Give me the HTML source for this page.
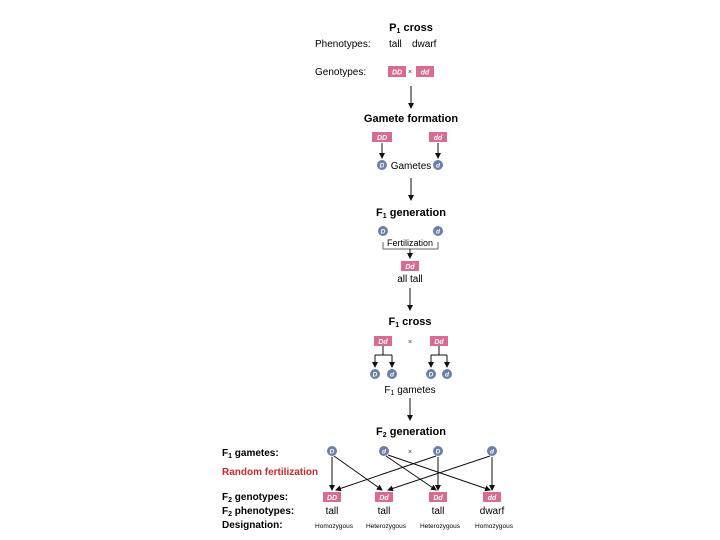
<!DOCTYPE html>
<html><head><meta charset="utf-8"><style>
html,body{margin:0;padding:0;background:#fff;}
body{width:720px;height:540px;position:relative;overflow:hidden;font-family:"Liberation Sans",sans-serif;color:#111;}
svg{position:absolute;left:0;top:0;}
</style></head><body>
<svg width="720" height="540" viewBox="0 0 720 540" font-family="Liberation Sans, sans-serif">
<defs>
<marker id="a" markerWidth="6" markerHeight="6" refX="5" refY="3" orient="auto" markerUnits="userSpaceOnUse"><path d="M0,0 L6,3 L0,6 z" fill="#111"/></marker>
</defs>
<g font-size="10" font-weight="bold">
<text x="411" y="31" text-anchor="middle" font-size="11">P<tspan font-size="7" dy="2">1</tspan><tspan dy="-2"> cross</tspan></text>
<text x="315" y="47" font-weight="normal" font-size="10">Phenotypes:</text>
<text x="389" y="47" font-weight="normal">tall</text>
<text x="412" y="47" font-weight="normal">dwarf</text>
<text x="315" y="75" font-weight="normal">Genotypes:</text>
<text x="411" y="122" text-anchor="middle" font-size="11">Gamete formation</text>
<text x="411" y="169" text-anchor="middle" font-weight="normal">Gametes</text>
<text x="411" y="216" text-anchor="middle" font-size="11">F<tspan font-size="7" dy="2">1</tspan><tspan dy="-2"> generation</tspan></text>
<text x="410" y="246" text-anchor="middle" font-weight="normal" font-size="9">Fertilization</text>
<text x="410" y="282" text-anchor="middle" font-weight="normal">all tall</text>
<text x="410" y="325" text-anchor="middle" font-size="11">F<tspan font-size="7" dy="2">1</tspan><tspan dy="-2"> cross</tspan></text>
<text x="410" y="393" text-anchor="middle" font-weight="normal">F<tspan font-size="7" dy="2">1</tspan><tspan dy="-2"> gametes</tspan></text>
<text x="411" y="435" text-anchor="middle" font-size="11">F<tspan font-size="7" dy="2">2</tspan><tspan dy="-2"> generation</tspan></text>
<text x="222" y="456">F<tspan font-size="7" dy="2">1</tspan><tspan dy="-2"> gametes:</tspan></text>
<text x="222" y="475" fill="#c8282e">Random fertilization</text>
<text x="222" y="500">F<tspan font-size="7" dy="2">2</tspan><tspan dy="-2"> genotypes:</tspan></text>
<text x="222" y="514">F<tspan font-size="7" dy="2">2</tspan><tspan dy="-2"> phenotypes:</tspan></text>
<text x="222" y="528">Designation:</text>
</g>
<g font-size="10" text-anchor="middle">
<text x="332" y="514">tall</text><text x="384" y="514">tall</text><text x="438" y="514">tall</text><text x="492" y="514">dwarf</text>
</g>
<g font-size="6.5" text-anchor="middle">
<text x="334" y="528">Homozygous</text><text x="386" y="528">Heterozygous</text><text x="440" y="528">Heterozygous</text><text x="494" y="528">Homozygous</text>
</g>
<g font-size="7" fill="#333" text-anchor="middle">
<text x="410" y="74">×</text><text x="410" y="344">×</text><text x="410" y="454">×</text>
</g>
<!-- pink boxes -->
<g fill="#d96a93">
<rect x="388" y="66" width="18" height="11"/><rect x="416" y="66" width="18" height="11"/>
<rect x="372" y="132" width="20" height="10"/><rect x="429" y="132" width="18" height="10"/>
<rect x="401" y="261" width="18" height="10"/>
<rect x="374" y="336" width="18" height="10"/><rect x="430" y="336" width="18" height="10"/>
<rect x="323" y="492" width="18" height="10"/><rect x="375" y="492" width="18" height="10"/><rect x="429" y="492" width="18" height="10"/><rect x="483" y="492" width="18" height="10"/>
</g>
<g fill="#fff" font-size="7" font-weight="bold" font-style="italic" text-anchor="middle">
<text x="397" y="74.5">DD</text><text x="425" y="74.5">dd</text>
<text x="382" y="140">DD</text><text x="438" y="140">dd</text>
<text x="410" y="269">Dd</text>
<text x="383" y="344">Dd</text><text x="439" y="344">Dd</text>
<text x="332" y="500">DD</text><text x="384" y="500">Dd</text><text x="438" y="500">Dd</text><text x="492" y="500">dd</text>
</g>
<!-- circles -->
<g fill="#6b7fa8">
<circle cx="382" cy="165" r="5"/><circle cx="438" cy="165" r="5"/>
<circle cx="383" cy="231" r="5"/><circle cx="438" cy="231" r="5"/>
<circle cx="375" cy="374" r="5"/><circle cx="392" cy="374" r="5"/><circle cx="431" cy="374" r="5"/><circle cx="447" cy="374" r="5"/>
<circle cx="332" cy="451" r="5"/><circle cx="384" cy="451" r="5"/><circle cx="438" cy="451" r="5"/><circle cx="492" cy="451" r="5"/>
</g>
<g fill="#fff" font-size="6.5" font-weight="bold" font-style="italic" text-anchor="middle">
<text x="382" y="167.5">D</text><text x="438" y="167.5">d</text>
<text x="383" y="233.5">D</text><text x="438" y="233.5">d</text>
<text x="375" y="376.5">D</text><text x="392" y="376.5">d</text><text x="431" y="376.5">D</text><text x="447" y="376.5">d</text>
<text x="332" y="453.5">D</text><text x="384" y="453.5">d</text><text x="438" y="453.5">D</text><text x="492" y="453.5">d</text>
</g>
<!-- lines -->
<g stroke="#111" stroke-width="1" fill="none">
<line x1="411" y1="86" x2="411" y2="108" marker-end="url(#a)"/>
<line x1="382" y1="143" x2="382" y2="158" marker-end="url(#a)"/>
<line x1="438" y1="143" x2="438" y2="158" marker-end="url(#a)"/>
<line x1="411" y1="178" x2="411" y2="200" marker-end="url(#a)"/>
<path d="M383,242 V249 H438 V242" stroke="#666"/>
<line x1="410" y1="249" x2="410" y2="258" marker-end="url(#a)"/>
<line x1="410" y1="288" x2="410" y2="310" marker-end="url(#a)"/>
<path d="M383,346 V355 M375,355 H392 M439,346 V355 M431,355 H447"/>
<line x1="375" y1="355" x2="375" y2="367" marker-end="url(#a)"/>
<line x1="392" y1="355" x2="392" y2="367" marker-end="url(#a)"/>
<line x1="431" y1="355" x2="431" y2="367" marker-end="url(#a)"/>
<line x1="447" y1="355" x2="447" y2="367" marker-end="url(#a)"/>
<line x1="410" y1="398" x2="410" y2="420" marker-end="url(#a)"/>
<line x1="332" y1="457" x2="332" y2="490" marker-end="url(#a)"/>
<line x1="334" y1="456" x2="382" y2="490" marker-end="url(#a)"/>
<line x1="386" y1="456" x2="436" y2="490" marker-end="url(#a)"/>
<line x1="388" y1="455" x2="490" y2="490" marker-end="url(#a)"/>
<line x1="436" y1="456" x2="336" y2="490" marker-end="url(#a)"/>
<line x1="438" y1="457" x2="438" y2="490" marker-end="url(#a)"/>
<line x1="490" y1="456" x2="388" y2="490" marker-end="url(#a)"/>
<line x1="492" y1="457" x2="492" y2="490" marker-end="url(#a)"/>
</g>
</svg>
</body></html>
